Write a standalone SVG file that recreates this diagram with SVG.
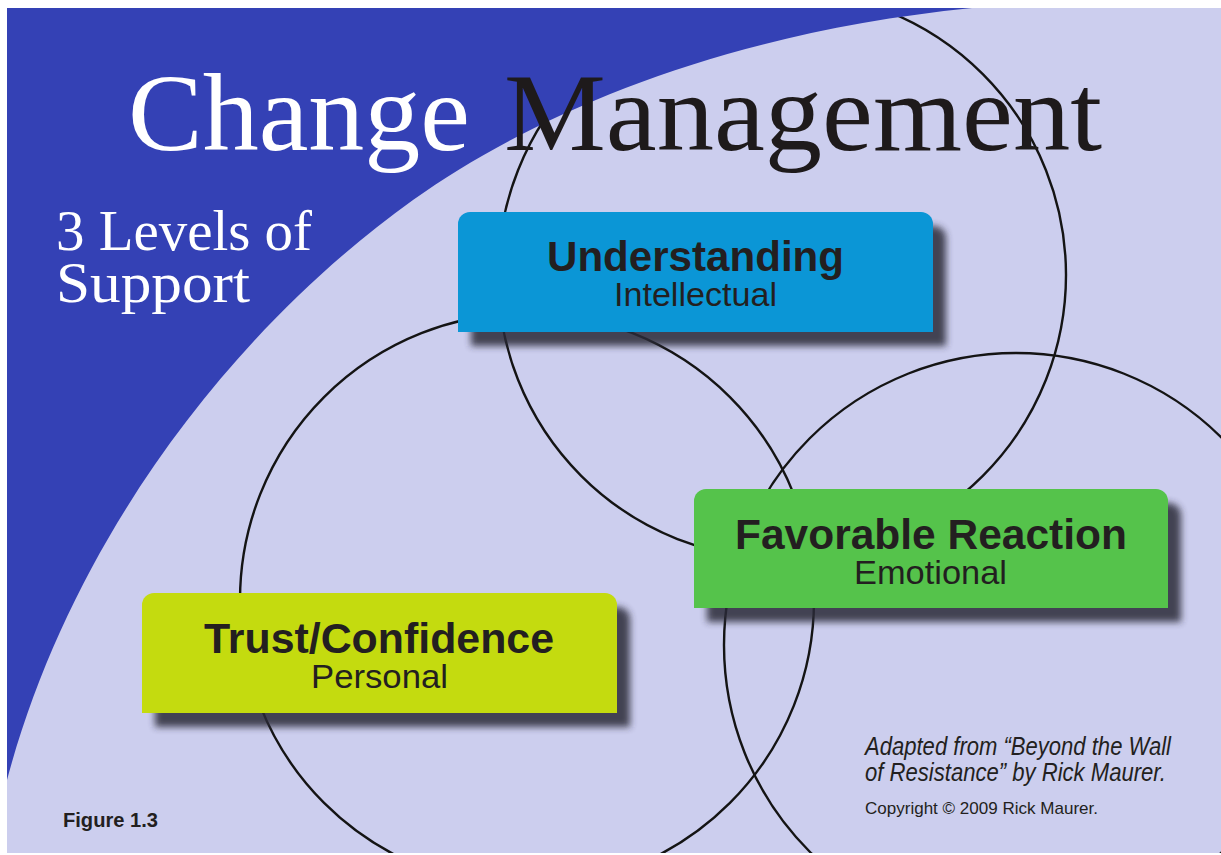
<svg xmlns="http://www.w3.org/2000/svg" width="1221" height="855" viewBox="0 0 1221 855">
  <defs>
    <filter id="shadowBlur" x="-10%" y="-20%" width="120%" height="140%">
      <feGaussianBlur stdDeviation="3.5"/>
    </filter>
    <clipPath id="pageClip">
      <rect x="7" y="8" width="1214" height="845"/>
    </clipPath>
    <style>
      .serif { font-family: "Liberation Serif", "Times New Roman", serif; }
      .sans { font-family: "Liberation Sans", Arial, sans-serif; fill: #231f20; }
      .head { font-weight: bold; font-size: 42px; }
      .sub { font-size: 34px; }
      .ring { fill: none; stroke: #141414; stroke-width: 2.4; }
      .shadow { fill: #2c2c38; opacity: 0.85; filter: url(#shadowBlur); }
    </style>
  </defs>

  <!-- page -->
  <rect x="0" y="0" width="1221" height="855" fill="#ffffff"/>
  <rect x="7" y="8" width="1214" height="845" fill="#ccceee"/>

  <!-- venn circles (drawn under the blue band) -->
  <g id="connectors" clip-path="url(#pageClip)">
    <circle class="ring" cx="782" cy="275" r="284"/>
    <circle class="ring" cx="527" cy="600" r="287"/>
    <circle class="ring" cx="1016" cy="645" r="292"/>
  </g>

  <!-- blue band -->
  <path id="blue-band" d="M7,8 L972,8 C723,33 535,113 413,200 C234,328 71.5,538.5 7,780 Z" fill="#3441b5"/>

  <!-- titles -->
  <g id="title">
    <text class="serif" x="128" y="150" font-size="110" fill="#ffffff" textLength="342" lengthAdjust="spacingAndGlyphs">Change</text>
    <text class="serif" x="504" y="150" font-size="110" fill="#1e1a1b" textLength="598" lengthAdjust="spacingAndGlyphs">Management</text>
  </g>
  <g id="subtitle">
    <text class="serif" x="56" y="250" font-size="56" fill="#ffffff" textLength="256" lengthAdjust="spacingAndGlyphs">3 Levels of</text>
    <text class="serif" x="56" y="302" font-size="56" fill="#ffffff" textLength="194" lengthAdjust="spacingAndGlyphs">Support</text>
  </g>

  <!-- Understanding -->
  <g id="node-understanding">
    <path class="shadow" d="M471,346 V238 A12,12 0 0 1 483,226 H934 A12,12 0 0 1 946,238 V346 Z"/>
    <path d="M458,332 V224 A12,12 0 0 1 470,212 H921 A12,12 0 0 1 933,224 V332 Z" fill="#0b96d6"/>
    <text class="sans head" x="547" y="271" textLength="297" lengthAdjust="spacingAndGlyphs">Understanding</text>
    <text class="sans sub" x="614" y="306" textLength="163" lengthAdjust="spacingAndGlyphs">Intellectual</text>
  </g>

  <!-- Favorable Reaction -->
  <g id="node-favorable">
    <path class="shadow" d="M707,622 V515 A12,12 0 0 1 719,503 H1169 A12,12 0 0 1 1181,515 V622 Z"/>
    <path d="M694,608 V501 A12,12 0 0 1 706,489 H1156 A12,12 0 0 1 1168,501 V608 Z" fill="#55c34b"/>
    <text class="sans head" x="735" y="549" textLength="392" lengthAdjust="spacingAndGlyphs">Favorable Reaction</text>
    <text class="sans sub" x="854" y="584" textLength="153" lengthAdjust="spacingAndGlyphs">Emotional</text>
  </g>

  <!-- Trust/Confidence -->
  <g id="node-trust">
    <path class="shadow" d="M155,727 V619 A12,12 0 0 1 167,607 H618 A12,12 0 0 1 630,619 V727 Z"/>
    <path d="M142,713 V605 A12,12 0 0 1 154,593 H605 A12,12 0 0 1 617,605 V713 Z" fill="#c4db0f"/>
    <text class="sans head" x="204" y="653" textLength="350" lengthAdjust="spacingAndGlyphs">Trust/Confidence</text>
    <text class="sans sub" x="311" y="688" textLength="137" lengthAdjust="spacingAndGlyphs">Personal</text>
  </g>

  <!-- footnotes -->
  <g id="credits">
    <text class="sans" x="865" y="755" font-size="25" font-style="italic" textLength="306" lengthAdjust="spacingAndGlyphs">Adapted from “Beyond the Wall</text>
    <text class="sans" x="865" y="781" font-size="25" font-style="italic" textLength="301" lengthAdjust="spacingAndGlyphs">of Resistance” by Rick Maurer.</text>
    <text class="sans" x="865" y="814" font-size="17" textLength="233" lengthAdjust="spacingAndGlyphs">Copyright © 2009 Rick Maurer.</text>
  </g>
  <g id="figure-label">
    <text class="sans" x="63" y="827" font-size="20" font-weight="bold" textLength="95" lengthAdjust="spacingAndGlyphs">Figure 1.3</text>
  </g>
</svg>
